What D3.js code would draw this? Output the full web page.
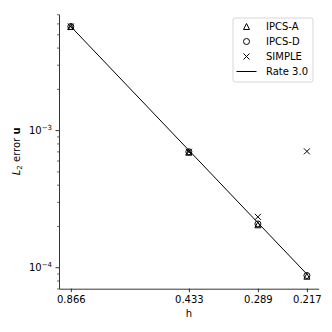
<!DOCTYPE html>
<html><head><meta charset="utf-8">
<script src="https://cdn.jsdelivr.net/npm/d3@7"></script>
<style>body{margin:0;background:#fff} svg{display:block} text{font-family:"DejaVu Sans",sans-serif;fill:#000}</style>
</head><body>
<script>
// ---- data ----
const hValues = [0.866025, 0.433013, 0.288675, 0.216506];
const hTickLabels = ["0.866", "0.433", "0.289", "0.217"];
const ipcsA = [5.70e-3, 6.90e-4, 2.04e-4, 8.6e-5];
const ipcsD = [5.70e-3, 6.95e-4, 2.07e-4, 8.7e-5];
const simple = [5.70e-3, 6.95e-4, 2.33e-4, 7.0e-4];
const rateLine = [5.70e-3, 7.13e-4, 2.11e-4, 8.9e-5];
const yMajorTicks = [1e-4, 1e-3];
const yMajorExp = ["−4", "−3"];
const yMinorTicks = [7e-5, 8e-5, 9e-5, 2e-4, 3e-4, 4e-4, 5e-4, 6e-4, 7e-4, 8e-4, 9e-4, 2e-3, 3e-3, 4e-3, 5e-3, 6e-3, 7e-3];
const seriesNames = ["IPCS-A", "IPCS-D", "SIMPLE"];
const seriesMarkers = ["triangle", "circle", "x"];
const rateLabel = "Rate 3.0";

// ---- layout ----
const W = 332, H = 332;
const mLeft = 59, mRight = 318.7, mTop = 14, mBottom = 288.7;

const svg = d3.select("body").append("svg").attr("width", W).attr("height", H);

function padLog(vals) {
  const l = vals.map(Math.log10);
  const mn = d3.min(l), mx = d3.max(l), p = 0.05 * (mx - mn);
  return [Math.pow(10, mn - p), Math.pow(10, mx + p)];
}
const xd = padLog(hValues);
const x = d3.scaleLog().domain([xd[1], xd[0]]).range([mLeft, mRight]);
const yd = padLog([...ipcsA, ...ipcsD, ...simple]);
const y = d3.scaleLog().domain(yd).range([mBottom, mTop]);

// ---- axes ----
const xAxis = d3.axisBottom(x).tickValues(hValues).tickFormat((d, i) => hTickLabels[i])
  .tickSizeInner(3.5).tickSizeOuter(0).tickPadding(3.5);
const gx = svg.append("g").attr("transform", `translate(0,${mBottom})`).call(xAxis);
gx.selectAll("text").attr("font-size", 10).attr("font-family", "DejaVu Sans").attr("fill", "#000");
gx.selectAll("line").attr("stroke", "#000").attr("stroke-width", 0.8);
gx.select(".domain").attr("stroke", "#000").attr("stroke-width", 0.8);

const yAxisMinor = d3.axisLeft(y).tickValues(yMinorTicks).tickFormat("").tickSizeInner(2).tickSizeOuter(0);
const gyMin = svg.append("g").attr("transform", `translate(${mLeft},0)`).call(yAxisMinor);
gyMin.selectAll("line").attr("stroke", "#000").attr("stroke-width", 0.6);
gyMin.select(".domain").remove();

const yAxis = d3.axisLeft(y).tickValues(yMajorTicks).tickFormat("").tickSizeInner(3.5).tickSizeOuter(0);
const gy = svg.append("g").attr("transform", `translate(${mLeft},0)`).call(yAxis);
gy.selectAll("line").attr("stroke", "#000").attr("stroke-width", 0.8);
gy.select(".domain").attr("stroke", "#000").attr("stroke-width", 0.8);
yMajorTicks.forEach((t, i) => {
  const tx = svg.append("text").attr("x", mLeft - 7).attr("y", y(t) + 3.6)
    .attr("text-anchor", "end").attr("font-size", 10);
  tx.append("tspan").text("10");
  tx.append("tspan").attr("font-size", 7).attr("dy", -4.2).text(yMajorExp[i]);
});

// axis labels
svg.append("text").attr("x", (mLeft + mRight) / 2).attr("y", 317).attr("text-anchor", "middle")
  .attr("font-size", 10).text("h");
const yl = svg.append("text").attr("transform", `translate(20,${(mTop + mBottom) / 2}) rotate(-90)`)
  .attr("text-anchor", "middle").attr("font-size", 10);
yl.append("tspan").attr("font-style", "italic").text("L");
yl.append("tspan").attr("font-size", 7).attr("dy", 2).text("2");
yl.append("tspan").attr("dy", -2).text(" error ");
yl.append("tspan").attr("font-weight", "bold").text("u");

// ---- marks ----
function markerPath(kind, s) {
  const h = s / 2;
  if (kind === "triangle") return `M0,${-h}L${-h},${h}L${h},${h}Z`;
  if (kind === "x") return `M${-h},${-h}L${h},${h}M${-h},${h}L${h},${-h}`;
  const p = d3.path(); p.arc(0, 0, h, 0, 2 * Math.PI); p.closePath(); return p.toString();
}

const line = d3.line().x((d, i) => x(hValues[i])).y(d => y(d));
svg.append("path").datum(rateLine).attr("d", line).attr("fill", "none")
  .attr("stroke", "#000").attr("stroke-width", 1);

[ipcsA, ipcsD, simple].forEach((vals, k) => {
  svg.append("g").selectAll("path").data(vals).join("path")
    .attr("transform", (d, i) => `translate(${x(hValues[i])},${y(d)})`)
    .attr("d", markerPath(seriesMarkers[k], 6))
    .attr("fill", "none").attr("stroke", "#000").attr("stroke-width", 1);
});

// ---- legend ----
const lg = svg.append("g");
lg.append("rect").attr("x", 233).attr("y", 18).attr("width", 80).attr("height", 64).attr("rx", 2)
  .attr("fill", "#fff").attr("fill-opacity", 0.8).attr("stroke", "#d6d6d6").attr("stroke-width", 1);
const rowY = [26.5, 41.5, 56.5, 71.5];
seriesNames.forEach((n, k) => {
  lg.append("path").attr("transform", `translate(246.5,${rowY[k]})`).attr("d", markerPath(seriesMarkers[k], 6))
    .attr("fill", "none").attr("stroke", "#000").attr("stroke-width", 1);
  lg.append("text").attr("x", 266).attr("y", rowY[k] + 3.6).attr("font-size", 10).text(n);
});
lg.append("line").attr("x1", 236.5).attr("x2", 256.5).attr("y1", rowY[3]).attr("y2", rowY[3])
  .attr("stroke", "#000").attr("stroke-width", 1);
lg.append("text").attr("x", 266).attr("y", rowY[3] + 3.6).attr("font-size", 10).text(rateLabel);
</script>
</body></html>
